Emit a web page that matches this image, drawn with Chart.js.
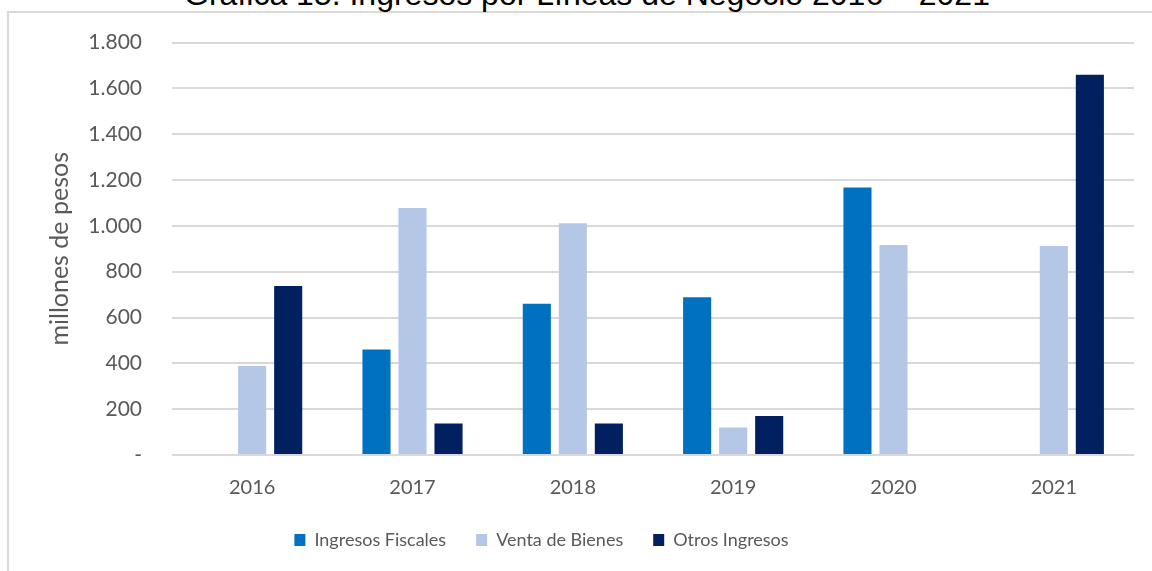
<!DOCTYPE html>
<html>
<head>
<meta charset="utf-8">
<script src="https://cdn.jsdelivr.net/npm/chart.js@4/dist/chart.umd.min.js"></script>
<style>
    html, body { margin: 0; padding: 0; background: #fff; overflow: hidden; }
    #wrap { position: relative; width: 1152px; height: 571px; }
    #frame {
        position: absolute; left: 7px; top: 11px; width: 1200px; height: 600px;
        border-left: 2px solid #d9d9d9; border-top: 2px solid #d9d9d9;
    }
    #title {
        position: absolute; left: 0; top: -22px; width: 1174px; text-align: center;
        font-family: 'Liberation Sans', Arial, sans-serif; font-size: 32px; line-height: 32px;
        color: #000; white-space: pre;
    }
    #chart { position: absolute; left: 0; top: 0; }
</style>
</head>
<body>
<div id="wrap">
    <div id="frame"></div>
    <div id="title">Gráfica 15. Ingresos por Líneas de Negocio 2016 – 2021</div>
    <canvas id="chart" width="1152" height="571"></canvas>
</div>
<script>
const years = ['2016', '2017', '2018', '2019', '2020', '2021'];
const ingresosFiscales = [null, 460, 660, 688, 1168, null];
const ventaBienes = [388, 1078, 1012, 120, 917, 912];
const otrosIngresos = [738, 138, 138, 170, null, 1660];

const seriesNames = ['Ingresos Fiscales', 'Venta de Bienes', 'Otros Ingresos'];
const seriesColors = ['#0070c0', '#b4c7e7', '#002060'];

const yMax = 1800;
const yStep = 200;

const textColor = '#595959';
const fontFamily = 'Lato, "Noto Sans", sans-serif';

function thousands(v) {
    if (v === 0) return '-';
    return v.toString().replace(/\B(?=(\d{3})+(?!\d))/g, '.');
}

// the legend in the original sits a bit left of the plot's centre
const legendShift = {
    id: 'legendShift',
    afterLayout(chart) {
        chart.legend.left -= 48;
        chart.legend.right -= 48;
    }
};

let seriesData = [ingresosFiscales, ventaBienes, otrosIngresos];

let context = document.getElementById('chart').getContext('2d');
let myChart = new Chart(context, {
    type: 'bar',
    data: {
        labels: years,
        datasets: seriesData.map((data, i) => ({
            label: seriesNames[i],
            data: data,
            backgroundColor: seriesColors[i],
            borderWidth: 0,
            categoryPercentage: 0.674,
            barPercentage: 0.78
        }))
    },
    plugins: [legendShift],
    options: {
        responsive: false,
        animation: false,
        layout: {
            padding: { left: 45, right: 18, top: 34, bottom: 12 }
        },
        plugins: {
            tooltip: { enabled: false },
            legend: {
                position: 'bottom',
                labels: {
                    color: textColor,
                    font: { family: fontFamily, size: 18 },
                    boxWidth: 11,
                    boxHeight: 12,
                    padding: 30
                }
            }
        },
        scales: {
            x: {
                grid: { display: false, drawTicks: false },
                border: { display: false },
                ticks: {
                    color: textColor,
                    font: { family: fontFamily, size: 20 },
                    padding: 21
                },
                afterFit: (scale) => { scale.height = 46; }
            },
            y: {
                min: 0,
                max: yMax,
                ticks: {
                    stepSize: yStep,
                    color: textColor,
                    font: { family: fontFamily, size: 21 },
                    padding: 30,
                    callback: (value) => thousands(value)
                },
                grid: {
                    color: '#d9d9d9',
                    lineWidth: 2,
                    drawTicks: false
                },
                border: { display: false },
                title: {
                    display: true,
                    text: 'millones de pesos',
                    color: textColor,
                    font: { family: fontFamily, size: 25 },
                    padding: { top: 0, bottom: 0 }
                },
                afterFit: (scale) => { scale.width = 127; }
            }
        }
    }
});
</script>
</body>
</html>
